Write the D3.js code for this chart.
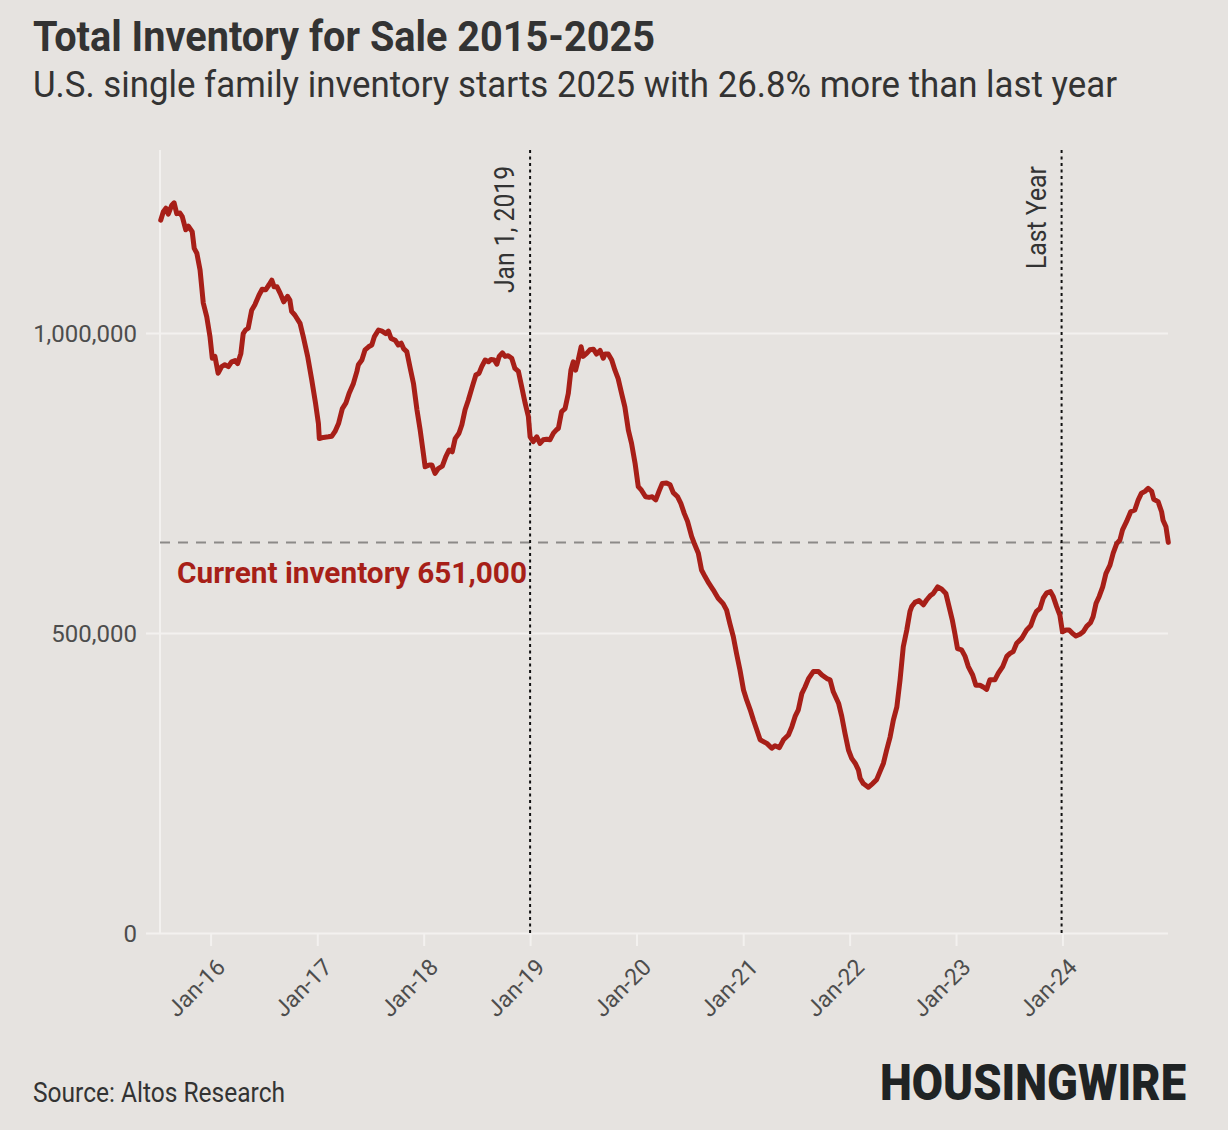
<!DOCTYPE html>
<html><head><meta charset="utf-8">
<script src="https://cdn.jsdelivr.net/npm/d3@7"></script>
<style>
html,body{margin:0;padding:0;background:#e6e3e0;}
svg{display:block;}
text{font-family:Roboto, "Noto Sans", sans-serif;}
</style>
</head><body>
<svg id="chart" width="1228" height="1130"></svg>
<script>
// ---- data ----
const series = [
["2015-07-14",1188000],["2015-07-23",1202000],["2015-08-01",1208000],["2015-08-09",1198000],["2015-08-21",1213000],["2015-08-29",1217000],["2015-09-07",1199000],["2015-09-18",1200000],["2015-09-26",1194000],["2015-10-08",1172000],["2015-10-17",1178000],["2015-10-30",1169000],["2015-11-06",1141000],["2015-11-15",1133000],["2015-11-26",1105000],["2015-12-07",1050000],["2015-12-19",1027000],["2015-12-30",994000],
["2016-01-07",958000],["2016-01-16",961000],["2016-01-27",933000],["2016-02-08",944000],["2016-02-19",947000],["2016-03-02",944000],["2016-03-13",952000],["2016-03-25",954000],["2016-04-03",949000],["2016-04-14",966000],["2016-04-22",999000],["2016-04-30",1005000],["2016-05-09",1008000],["2016-05-21",1038000],["2016-06-01",1047000],["2016-06-15",1063000],["2016-06-26",1073000],["2016-07-08",1072000],["2016-07-19",1080000],["2016-07-29",1088000],["2016-08-06",1077000],["2016-08-16",1077000],["2016-08-27",1066000],["2016-09-08",1052000],["2016-09-21",1061000],["2016-09-29",1055000],["2016-10-05",1036000],["2016-10-16",1030000],["2016-11-03",1016000],["2016-11-14",994000],["2016-11-29",961000],["2016-12-13",922000],["2016-12-26",883000],
["2017-01-05",849000],["2017-01-08",824000],["2017-01-22",826000],["2017-02-08",827000],["2017-02-20",828000],["2017-03-03",836000],["2017-03-15",849000],["2017-03-28",874000],["2017-04-09",883000],["2017-04-20",899000],["2017-05-05",916000],["2017-05-17",936000],["2017-05-22",947000],["2017-06-03",955000],["2017-06-14",972000],["2017-06-26",977000],["2017-07-07",980000],["2017-07-16",994000],["2017-07-30",1005000],["2017-08-11",1003000],["2017-08-24",999000],["2017-09-02",1003000],["2017-09-11",991000],["2017-09-25",988000],["2017-10-06",980000],["2017-10-16",983000],["2017-10-24",974000],["2017-11-04",969000],["2017-11-16",941000],["2017-11-27",916000],["2017-12-09",872000],["2017-12-20",838000],["2017-12-31",799000],
["2018-01-06",777000],["2018-01-20",780000],["2018-01-29",780000],["2018-02-09",766000],["2018-02-20",774000],["2018-03-06",778000],["2018-03-18",794000],["2018-03-29",805000],["2018-04-09",802000],["2018-04-19",824000],["2018-05-02",833000],["2018-05-12",847000],["2018-05-23",872000],["2018-06-03",888000],["2018-06-17",911000],["2018-06-29",930000],["2018-07-10",933000],["2018-07-19",944000],["2018-07-31",955000],["2018-08-11",952000],["2018-08-20",956000],["2018-08-31",955000],["2018-09-09",948000],["2018-09-17",961000],["2018-09-28",967000],["2018-10-07",961000],["2018-10-18",962000],["2018-10-30",958000],["2018-11-10",941000],["2018-11-22",936000],["2018-12-03",911000],["2018-12-15",883000],["2018-12-26",861000],
["2019-01-01",827000],["2019-01-12",819000],["2019-01-24",827000],["2019-02-04",816000],["2019-02-15",822000],["2019-02-27",823000],["2019-03-10",822000],["2019-03-22",833000],["2019-04-02",839000],["2019-04-08",841000],["2019-04-19",869000],["2019-05-01",874000],["2019-05-12",899000],["2019-05-21",938000],["2019-05-29",952000],["2019-06-06",938000],["2019-06-15",955000],["2019-06-25",977000],["2019-07-02",961000],["2019-07-14",966000],["2019-07-25",972000],["2019-08-06",973000],["2019-08-17",965000],["2019-08-29",971000],["2019-09-09",958000],["2019-09-15",965000],["2019-09-26",965000],["2019-10-08",955000],["2019-10-19",938000],["2019-10-30",924000],["2019-11-11",899000],["2019-11-22",877000],["2019-12-04",838000],["2019-12-15",816000],["2019-12-27",783000],
["2020-01-07",744000],["2020-01-18",738000],["2020-02-01",727000],["2020-02-13",726000],["2020-02-24",727000],["2020-03-07",722000],["2020-03-18",736000],["2020-03-29",749000],["2020-04-13",750000],["2020-04-25",747000],["2020-05-06",734000],["2020-05-21",727000],["2020-06-01",716000],["2020-06-13",699000],["2020-06-24",686000],["2020-07-08",661000],["2020-07-19",647000],["2020-07-31",633000],["2020-08-11",605000],["2020-08-23",594000],["2020-09-05",583000],["2020-09-20",572000],["2020-10-07",558000],["2020-10-24",549000],["2020-11-05",538000],["2020-11-16",516000],["2020-11-28",494000],["2020-12-09",466000],["2020-12-21",438000],
["2021-01-02",405000],["2021-01-13",388000],["2021-01-25",372000],["2021-02-05",355000],["2021-02-17",338000],["2021-02-28",322000],["2021-03-23",316000],["2021-04-09",308000],["2021-04-20",312000],["2021-05-05",309000],["2021-05-19",322000],["2021-06-05",330000],["2021-06-17",344000],["2021-06-28",361000],["2021-07-09",372000],["2021-07-21",399000],["2021-08-01",410000],["2021-08-13",424000],["2021-08-30",436000],["2021-09-16",436000],["2021-09-28",430000],["2021-10-15",424000],["2021-10-26",422000],["2021-11-06",402000],["2021-11-24",383000],["2021-12-05",361000],["2021-12-16",333000],["2021-12-28",305000],
["2022-01-08",291000],["2022-01-20",283000],["2022-01-31",272000],["2022-02-06",258000],["2022-02-17",249000],["2022-03-06",243000],["2022-03-21",249000],["2022-04-04",256000],["2022-04-15",269000],["2022-04-27",283000],["2022-05-08",305000],["2022-05-20",327000],["2022-05-31",355000],["2022-06-12",377000],["2022-06-23",422000],["2022-07-04",477000],["2022-07-16",505000],["2022-07-27",536000],["2022-08-02",544000],["2022-08-13",551000],["2022-08-27",554000],["2022-09-11",547000],["2022-09-22",555000],["2022-10-04",562000],["2022-10-15",566000],["2022-10-30",577000],["2022-11-13",573000],["2022-11-27",566000],["2022-12-08",544000],["2022-12-19",522000],["2022-12-28",499000],
["2023-01-06",474000],["2023-01-20",472000],["2023-02-01",461000],["2023-02-12",444000],["2023-02-27",430000],["2023-03-10",413000],["2023-03-24",413000],["2023-04-04",410000],["2023-04-16",406000],["2023-04-27",422000],["2023-05-14",422000],["2023-05-26",433000],["2023-06-10",444000],["2023-06-24",461000],["2023-07-05",466000],["2023-07-16",469000],["2023-07-28",483000],["2023-08-14",491000],["2023-08-31",505000],["2023-09-14",512000],["2023-09-25",527000],["2023-10-04",536000],["2023-10-16",541000],["2023-10-27",558000],["2023-11-08",567000],["2023-11-21",569000],["2023-11-30",561000],["2023-12-12",544000],["2023-12-23",530000],
["2024-01-01",502000],["2024-01-13",505000],["2024-01-24",505000],["2024-02-05",499000],["2024-02-16",495000],["2024-03-01",498000],["2024-03-12",502000],["2024-03-24",511000],["2024-04-06",517000],["2024-04-15",527000],["2024-04-25",549000],["2024-05-06",561000],["2024-05-18",577000],["2024-05-29",599000],["2024-06-12",613000],["2024-06-23",633000],["2024-07-05",649000],["2024-07-16",655000],["2024-07-25",672000],["2024-08-08",686000],["2024-08-22",702000],["2024-09-05",705000],["2024-09-17",722000],["2024-09-28",733000],["2024-10-10",736000],["2024-10-21",741000],["2024-11-02",736000],["2024-11-09",723000],["2024-11-24",719000],["2024-12-06",702000],["2024-12-11",688000],["2024-12-21",677000],["2024-12-29",651000]
];
const yTicks = [0, 500000, 1000000];
const xTicks = ["2016-01-01","2017-01-01","2018-01-01","2019-01-01","2020-01-01","2021-01-01","2022-01-01","2023-01-01","2024-01-01"];
const markers = [
  {date: "2019-01-01", label: "Jan 1, 2019"},
  {date: "2023-12-29", label: "Last Year"}
];
const currentInventory = 651000;
const currentLabel = "Current inventory 651,000";
const titleText = "Total Inventory for Sale 2015-2025";
const subtitleText = "U.S. single family inventory starts 2025 with 26.8% more than last year";
const sourceText = "Source: Altos Research";
const logoText = "HOUSINGWIRE";

// ---- drawing ----
const parse = d3.timeParse("%Y-%m-%d");
const data = series.map(([d, v]) => ({date: parse(d), value: v}));
const svg = d3.select("#chart");
const BG = "#e6e3e0", GRID = "#f3f1ef", RED = "#a71f18", AXT = "#4d4d4d";

svg.append("rect").attr("width", 1228).attr("height", 1130).attr("fill", BG);

const x = d3.scaleTime().domain(d3.extent(data, d => d.date)).range([160.7, 1168.3]);
const y = d3.scaleLinear().domain([0, 1305000]).range([933, 150]);

// y axis with gridlines
const yAxis = svg.append("g").attr("transform", "translate(160,0)")
  .call(d3.axisLeft(y).tickValues(yTicks).tickFormat(d3.format(",")).tickSizeOuter(0));
yAxis.select(".domain").remove();
yAxis.selectAll(".tick line").attr("x1", -14).attr("x2", 1008).attr("stroke", GRID).attr("stroke-width", 2);
yAxis.selectAll(".tick text").attr("x", -23).attr("fill", AXT).style("font-size", "24px").attr("dy", "0.35em");

// vertical axis line
svg.append("line").attr("x1", 160).attr("x2", 160).attr("y1", 150).attr("y2", 933)
  .attr("stroke", GRID).attr("stroke-width", 2);

// x axis
const xAxis = svg.append("g").attr("transform", "translate(0,933)")
  .call(d3.axisBottom(x).tickValues(xTicks.map(parse)).tickFormat(d3.timeFormat("%b-%y")).tickSize(13).tickSizeOuter(0));
xAxis.select(".domain").remove();
xAxis.selectAll(".tick line").attr("stroke", GRID).attr("stroke-width", 2);
xAxis.selectAll(".tick text")
  .attr("fill", AXT).style("font-size", "23px")
  .attr("text-anchor", "end").attr("y", 0).attr("dy", "0.71em")
  .attr("transform", "translate(4,24) rotate(-45)");

// current inventory dashed line
svg.append("line")
  .attr("x1", 160).attr("x2", 1168).attr("y1", y(currentInventory)).attr("y2", y(currentInventory))
  .attr("stroke", "#8c8a88").attr("stroke-width", 2).attr("stroke-dasharray", "10,8");

// marker dotted lines
markers.forEach(m => {
  const xm = x(parse(m.date));
  svg.append("line").attr("x1", xm).attr("x2", xm).attr("y1", 150).attr("y2", 933)
    .attr("stroke", "#111").attr("stroke-width", 2).attr("stroke-dasharray", "3,3.5");
});
const mLabelLen = [127, 103];
markers.forEach((m, i) => {
  const xm = x(parse(m.date));
  svg.append("text")
    .attr("transform", `translate(${xm - 16},166) rotate(-90)`)
    .attr("text-anchor", "end")
    .attr("fill", "#333")
    .style("font-size", "27px")
    .attr("textLength", mLabelLen[i]).attr("lengthAdjust", "spacingAndGlyphs")
    .text(m.label);
});

// the line
svg.append("path").datum(data)
  .attr("fill", "none").attr("stroke", RED).attr("stroke-width", 5)
  .attr("stroke-linejoin", "round").attr("stroke-linecap", "round")
  .attr("d", d3.line().x(d => x(d.date)).y(d => y(d.value)));

// annotation
svg.append("text").attr("x", 177).attr("y", 583)
  .attr("fill", RED).style("font-size", "30px").style("font-weight", 700)
  .attr("textLength", 350).attr("lengthAdjust", "spacingAndGlyphs")
  .text(currentLabel);

// titles
svg.append("text").attr("x", 33).attr("y", 51)
  .attr("fill", "#333").style("font-size", "42px").style("font-weight", 700)
  .attr("textLength", 622).attr("lengthAdjust", "spacingAndGlyphs")
  .text(titleText);
svg.append("text").attr("x", 33).attr("y", 97)
  .attr("fill", "#333").style("font-size", "36px")
  .attr("textLength", 1084).attr("lengthAdjust", "spacingAndGlyphs")
  .text(subtitleText);

// footer
svg.append("text").attr("x", 33).attr("y", 1102)
  .attr("fill", "#333").style("font-size", "27px")
  .attr("textLength", 252).attr("lengthAdjust", "spacingAndGlyphs")
  .text(sourceText);
svg.append("text").attr("x", 880).attr("y", 1100)
  .attr("fill", "#1f2324").style("font-size", "50px").style("font-weight", 900)
  .attr("textLength", 306).attr("lengthAdjust", "spacingAndGlyphs")
  .text(logoText);
</script>
</body></html>
